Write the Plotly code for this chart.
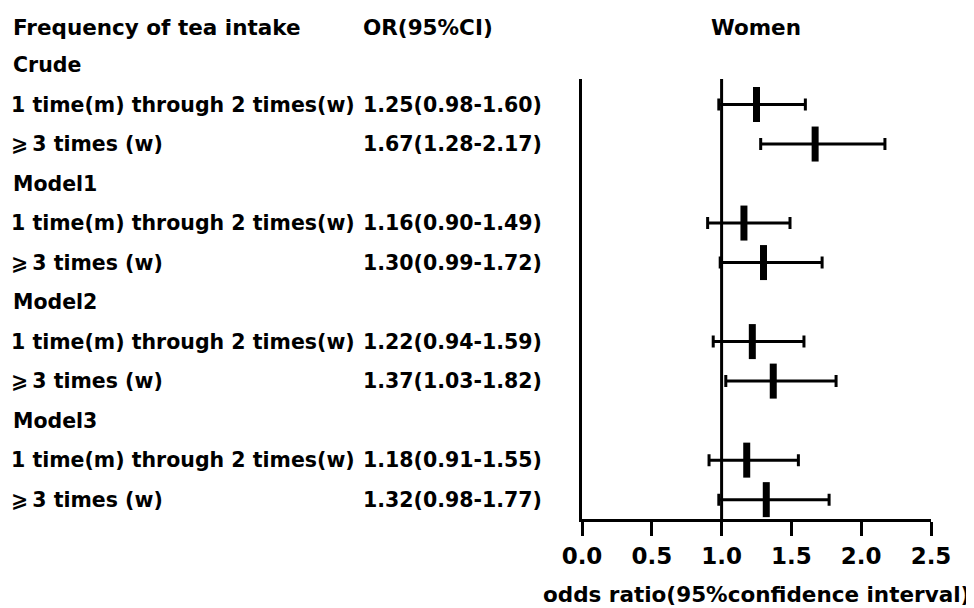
import plotly.graph_objects as go

# ---- data ----
groups = ["Crude", "Model1", "Model2", "Model3"]
categories = ["1 time(m) through 2 times(w)", "⩾\u20093 times (w)"]
or_values = [[1.25, 1.67], [1.16, 1.30], [1.22, 1.37], [1.18, 1.32]]
ci_low = [[0.98, 1.28], [0.90, 0.99], [0.94, 1.03], [0.91, 0.98]]
ci_high = [[1.60, 2.17], [1.49, 1.72], [1.59, 1.82], [1.55, 1.77]]
x_ticks = [0.0, 0.5, 1.0, 1.5, 2.0, 2.5]
x_tick_labels = ["0.0", "0.5", "1.0", "1.5", "2.0", "2.5"]

# page body has an 8px margin, so the figure is made smaller and offset
OFF = 8
W, H = 974 - OFF, 608 - OFF
FONT = "DejaVu Sans"


def px(x):
    return (x - OFF) / W


def py(y):
    return 1 - (y - OFF) / H


X_DOMAIN = [px(582), px(931)]
Y_DOMAIN = [py(519), py(79)]
Y_RANGE = [11.49, 0.354]  # reversed: row 0 at top


def row_to_paper(k):
    """Convert a row index into paper y using the y axis domain and range."""
    frac = (k - Y_RANGE[0]) / (Y_RANGE[1] - Y_RANGE[0])
    return Y_DOMAIN[0] + frac * (Y_DOMAIN[1] - Y_DOMAIN[0])


# rows: group header then its two categories
xs, ys, em, ep, row_labels, or_texts = [], [], [], [], [], []
group_rows = []
k = 0
for gi, g in enumerate(groups):
    group_rows.append((k, g))
    k += 1
    for ci, c in enumerate(categories):
        xs.append(or_values[gi][ci])
        ys.append(k)
        em.append(or_values[gi][ci] - ci_low[gi][ci])
        ep.append(ci_high[gi][ci] - or_values[gi][ci])
        row_labels.append((k, c))
        or_texts.append((k, f"{or_values[gi][ci]:.2f}({ci_low[gi][ci]:.2f}-{ci_high[gi][ci]:.2f})"))
        k += 1

fig = go.Figure()
fig.add_trace(go.Scatter(
    x=xs, y=ys, mode="markers",
    marker=dict(symbol="line-ns", size=25, color="black",
                line=dict(color="black", width=7)),
    error_x=dict(type="data", symmetric=False, array=ep, arrayminus=em,
                 color="black", thickness=3, width=6),
    hoverinfo="skip", showlegend=False,
))

# reference line at OR = 1
fig.add_shape(type="line", xref="x", yref="y domain", x0=1, x1=1, y0=0, y1=1,
              line=dict(color="black", width=3))

ann = []
tf = dict(family=FONT, size=20.5, color="black", weight="bold")
hf = dict(family=FONT, size=21.5, color="black", weight="bold")
hy = row_to_paper(-1) - 2 / H
ann.append(dict(x=px(11), y=hy, xref="paper", yref="paper", text="Frequency of tea intake",
                xanchor="left", yanchor="middle", showarrow=False, font=hf))
ann.append(dict(x=px(361), y=hy, xref="paper", yref="paper", text="OR(95%CI)",
                xanchor="left", yanchor="middle", showarrow=False, font=hf))
ann.append(dict(x=px(756), y=hy, xref="paper", yref="paper", text="Women",
                xanchor="center", yanchor="middle", showarrow=False, font=hf))
for r, g in group_rows:
    ann.append(dict(x=px(11), y=row_to_paper(r), xref="paper", yref="paper", text=g,
                    xanchor="left", yanchor="middle", showarrow=False, font=tf))
for r, c in row_labels:
    ann.append(dict(x=px(9), y=row_to_paper(r), xref="paper", yref="paper", text=c,
                    xanchor="left", yanchor="middle", showarrow=False, font=tf))
for r, t in or_texts:
    ann.append(dict(x=px(544), y=row_to_paper(r), xref="paper", yref="paper", text=t,
                    xanchor="right", yanchor="middle", showarrow=False, font=tf))
ann.append(dict(x=px(756), y=py(594), xref="paper", yref="paper",
                text="odds ratio(95%confidence interval)",
                xanchor="center", yanchor="middle", showarrow=False,
                font=dict(family=FONT, size=21.5, color="black", weight="bold")))

fig.update_layout(
    width=W, height=H,
    margin=dict(l=0, r=0, t=0, b=0, pad=0, autoexpand=False),
    paper_bgcolor="white", plot_bgcolor="white",
    annotations=ann,
    xaxis=dict(domain=X_DOMAIN, range=[0, 2.5], tickvals=x_ticks,
               ticktext=x_tick_labels, ticks="outside", ticklen=14, tickwidth=3,
               tickcolor="black", showline=True, linewidth=3, linecolor="black",
               showgrid=False, zeroline=False, automargin=False,
               tickfont=dict(family=FONT, size=23, color="black", weight="bold")),
    yaxis=dict(domain=Y_DOMAIN, range=Y_RANGE,
               showline=True, linewidth=3, linecolor="black", showticklabels=False,
               ticks="", showgrid=False, zeroline=False, automargin=False),
)

fig.write_html("out.html")
